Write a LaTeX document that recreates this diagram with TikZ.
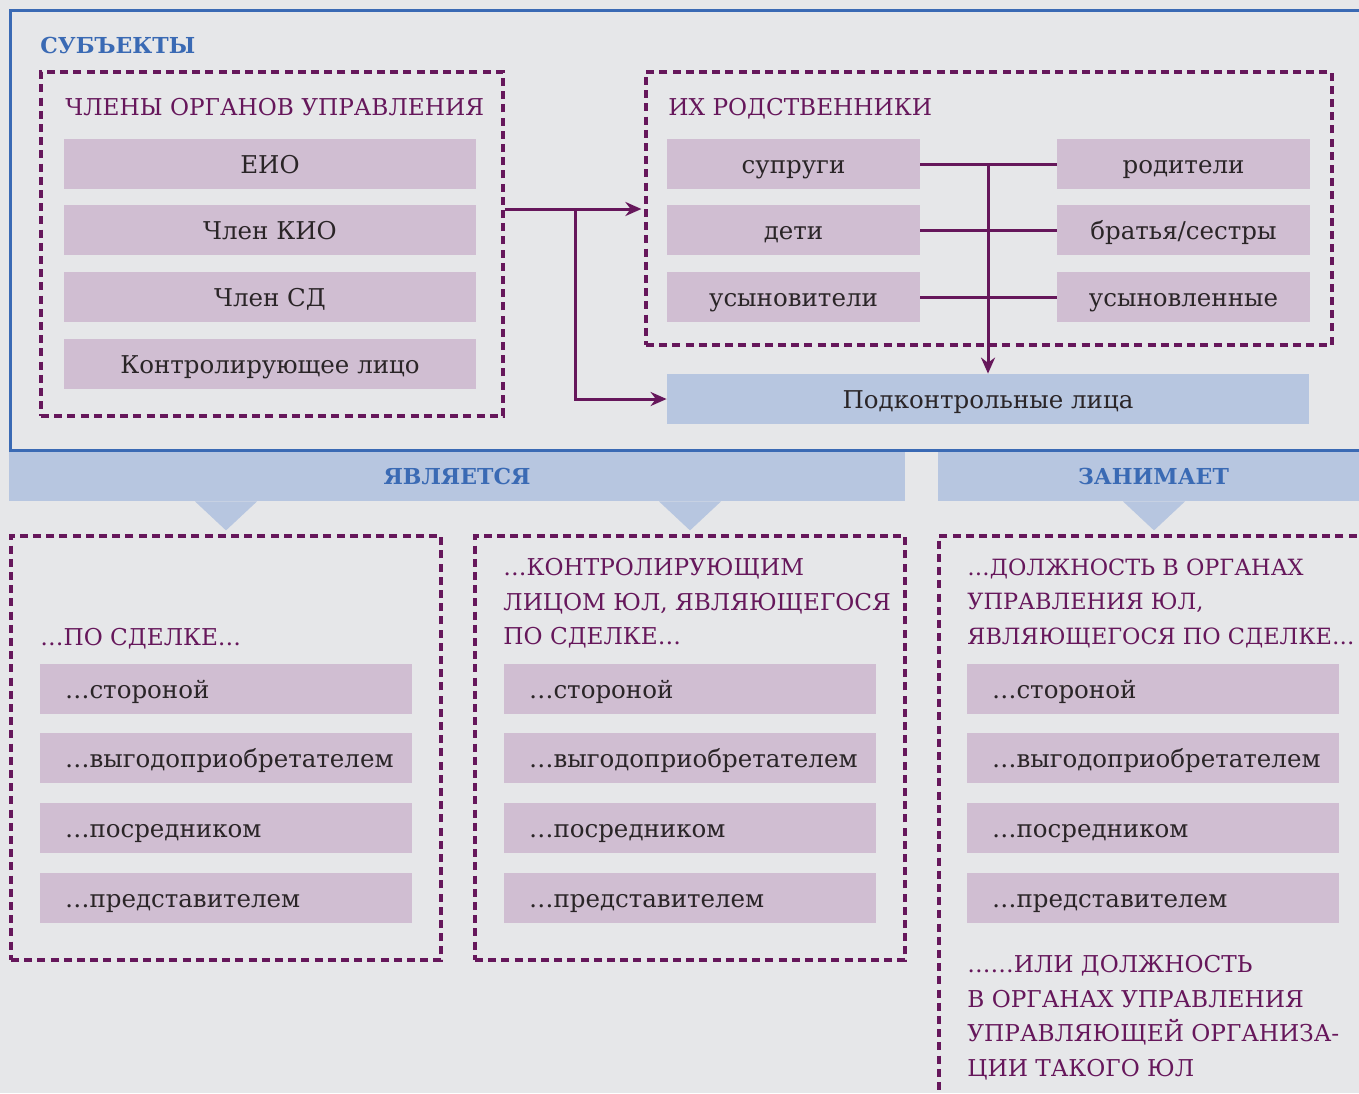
\documentclass[tikz,border=0pt]{standalone}
\usepackage{fontspec}
\setmainfont{DejaVu Serif}
\usetikzlibrary{arrows.meta, positioning}

\definecolor{bgGray}{HTML}{E6E7E9}
\definecolor{frameBlue}{HTML}{3A6AB4}
\definecolor{bandBlue}{HTML}{B7C6E0}
\definecolor{boxPink}{HTML}{D0BED2}
\definecolor{plum}{HTML}{66175B}
\definecolor{ink}{HTML}{2A2527}

\begin{document}
\begin{tikzpicture}[x=0.5pt, y=-0.5pt,
    every node/.style={font=\fontsize{12.25}{17.3}\selectfont},
    item/.style={fill=boxPink, text=ink, minimum height=25pt, inner sep=0pt,
        text height=11pt, text depth=2pt},
    wideitem/.style={item, minimum width=206pt},
    kinitem/.style={item, minimum width=126.5pt},
    deal/.style={item, text width=161pt, inner xsep=12.5pt, align=left},
    group/.style={draw=plum, line width=1.6pt, dash pattern=on 4pt off 2.6pt},
    caption/.style={text=plum, inner sep=0pt, anchor=base west,
        font=\fontsize{11.6}{17.3}\selectfont},
    heading/.style={text=frameBlue, font=\fontsize{11}{14}\selectfont\bfseries},
    band/.style={fill=bandBlue, inner sep=0pt, minimum height=24.5pt},
    link/.style={draw=plum, line width=1.5pt},
    tip/.style={-{Stealth[length=8pt, width=7pt]}}]

\useasboundingbox[fill=bgGray] (0,0) rectangle (1359,1093);
\clip (0,0) rectangle (1359,1093);

% subjects
\draw[frameBlue, line width=1.5pt] (1380,10) -| (10.5,450) -- (1380,450);
\node (subjTitle) [heading, anchor=base west, inner sep=0pt] at (40,53) {СУБЪЕКТЫ};

\node (members) [group, minimum width=231pt, minimum height=172pt] at (272,244) {};
\node (membersTitle) [caption] at (65,115) {ЧЛЕНЫ ОРГАНОВ УПРАВЛЕНИЯ};
\node (eio) [wideitem] at (270,164) {ЕИО};
\node (kio) [wideitem] at (270,230) {Член КИО};
\node (sd) [wideitem] at (270,297) {Член СД};
\node (ctrl) [wideitem] at (270,364) {Контролирующее лицо};

\node (relatives) [group, minimum width=343pt, minimum height=136.5pt] at (989,208.5) {};
\node (relativesTitle) [caption] at (668,115) {ИХ РОДСТВЕННИКИ};
\node (spouses) [kinitem] at (793.5,164) {супруги};
\node (children) [kinitem] at (793.5,230) {дети};
\node (adopters) [kinitem] at (793.5,297) {усыновители};
\node (parents) [kinitem] at (1183.5,164) {родители};
\node (siblings) [kinitem] at (1183.5,230) {братья/сестры};
\node (adoptees) [kinitem] at (1183.5,297) {усыновленные};

\node (controlled) [item, fill=bandBlue, minimum width=321pt] at (988,399) {Подконтрольные лица};

\coordinate (fork) at (575,209);
\draw[link, tip] (members.east |- fork) -- ([xshift=-1.5pt]relatives.west |- fork);
\draw[link, tip] (fork) |- (controlled.west);
\draw[link] (spouses) -- (parents);
\draw[link] (children) -- (siblings);
\draw[link] (adopters) -- (adoptees);
\draw[link, tip] (spouses.east -| controlled.north) -- (controlled.north);

% deals
\node (isBand) [band, heading, minimum width=448pt] at (457,476.5) {ЯВЛЯЕТСЯ};
\node (holdsBand) [band, heading, minimum width=215.5pt] at (1153.5,476.5) {ЗАНИМАЕТ};

\node (dealA) [group, minimum width=215pt, minimum height=212pt] at (226,748) {};
\node (dealB) [group, minimum width=215pt, minimum height=212pt] at (690,748) {};
\node (dealC) [group, minimum width=215pt, minimum height=287pt] at (1154,823) {};

\fill[bandBlue] (isBand.south -| dealA.north) ++(-31,0) -- ++(62,0) -- ([yshift=2pt]dealA.north) -- cycle;
\fill[bandBlue] (isBand.south -| dealB.north) ++(-31,0) -- ++(62,0) -- ([yshift=2pt]dealB.north) -- cycle;
\fill[bandBlue] (holdsBand.south -| dealC.north) ++(-31,0) -- ++(62,0) -- ([yshift=2pt]dealC.north) -- cycle;

\node (dealATitle) [caption] at (40,645) {…ПО СДЕЛКЕ…};
\node (dealBTitle) [caption, align=left, anchor=north west] at (503,558) {…КОНТРОЛИРУЮЩИМ\\ЛИЦОМ ЮЛ, ЯВЛЯЮЩЕГОСЯ\\ПО СДЕЛКЕ…};
\node (dealCTitle) [caption, align=left, anchor=north west,
    font=\fontsize{11.2}{17.3}\selectfont] at (967,558) {…ДОЛЖНОСТЬ В ОРГАНАХ\\УПРАВЛЕНИЯ ЮЛ,\\ЯВЛЯЮЩЕГОСЯ ПО СДЕЛКЕ…};

\node (sideA) [deal] at (226,689) {…стороной};
\node (benefA) [deal] at (226,758) {…выгодоприобретателем};
\node (agentA) [deal] at (226,828) {…посредником};
\node (reprA) [deal] at (226,898) {…представителем};

\node (sideB) [deal] at (690,689) {…стороной};
\node (benefB) [deal] at (690,758) {…выгодоприобретателем};
\node (agentB) [deal] at (690,828) {…посредником};
\node (reprB) [deal] at (690,898) {…представителем};

\node (sideC) [deal] at (1153,689) {…стороной};
\node (benefC) [deal] at (1153,758) {…выгодоприобретателем};
\node (agentC) [deal] at (1153,828) {…посредником};
\node (reprC) [deal] at (1153,898) {…представителем};

\node (dealCNote) [caption, align=left, anchor=north west] at (967,955) {……ИЛИ ДОЛЖНОСТЬ\\В ОРГАНАХ УПРАВЛЕНИЯ\\УПРАВЛЯЮЩЕЙ ОРГАНИЗА-\\ЦИИ ТАКОГО ЮЛ};
\end{tikzpicture}
\end{document}
